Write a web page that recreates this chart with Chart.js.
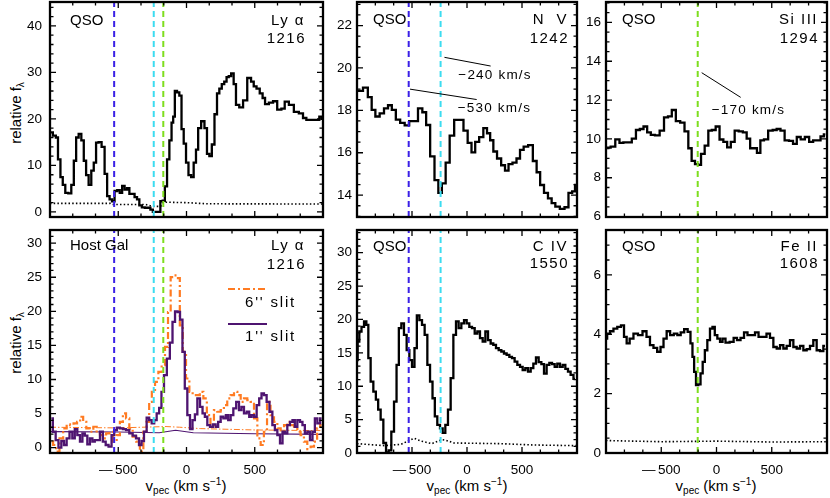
<!DOCTYPE html>
<html>
<head>
<meta charset="utf-8">
<title>QSO and host galaxy line profiles</title>
<script src="https://cdn.jsdelivr.net/npm/chart.js@4.4.1/dist/chart.umd.min.js"></script>
<style>
  html, body { margin: 0; padding: 0; background: #fff; }
  body { position: relative; width: 830px; height: 498px; overflow: hidden;
         font-family: "Liberation Sans", Arial, sans-serif; color: #000; }
  canvas { position: absolute; }
  .yt { position: absolute; font-size: 15px; line-height: 1; white-space: nowrap;
        transform: translate(-50%, -50%) rotate(-90deg); }
  .xt { position: absolute; top: 478px; font-size: 15px; line-height: 1; white-space: nowrap;
        transform: translateX(-50%); }
  .yt sub, .xt sub { font-size: 10px; position: relative; top: 3px; vertical-align: baseline; }
  .xt sup { font-size: 10px; position: relative; top: -6px; vertical-align: baseline; }
</style>
</head>
<body>
<div class="yt" style="left:15px;top:113px">relative f<sub>λ</sub></div>
<div class="yt" style="left:15px;top:343px">relative f<sub>λ</sub></div>
<div class="xt" style="left:186px">v<sub>pec</sub> (km s<sup>−1</sup>)</div>
<div class="xt" style="left:467px">v<sub>pec</sub> (km s<sup>−1</sup>)</div>
<div class="xt" style="left:716px">v<sub>pec</sub> (km s<sup>−1</sup>)</div>
<script>
const FONT = '"Liberation Sans", Arial, sans-serif';

// ---- data (velocity in km/s, flux in relative f_lambda) ----
const velTicks = [-500, 0, 500];
const vBlue = -530, vCyan = -240, vGreen = -170;

// QSO Ly alpha 1216
const lyaQsoVel = [-995,-963,-951,-932,-915,-898,-878,-854,-834,-817,
  -800,-780,-761,-744,-727,-707,-688,-671,-654,-634,
  -610,-590,-573,-554,-537,-517,-498,-480,-463,-444,
  -427,-410,-390,-371,-354,-337,-317,-293,-273,-256,
  -237,-220,-200,-183,-166,-151,-134,-117,-102,-93,
  -78,-61,-44,-29,-12,5,24,44,61,78,
  93,122,141,159,176,195,215,232,249,268,
  285,302,317,337,354,371,402,427,463,483,
  502,524,549,566,585,622,646,683,707,732,
  768,805,841,866,890,939,963,983,1000];
const lyaQsoFlux = [17.1,16.4,16,11.3,7.5,5.8,4.1,4.0,5.8,11,
  16,16.8,15.4,11,7.9,5.8,8.9,10.6,14.9,15,
  14,8.2,3.4,2.7,2.3,4.5,4.7,4.1,5.6,4.8,
  5.1,3.9,3.9,3.2,2.7,1.4,1.0,0.9,0.9,0.5,
  0,0,0,2.3,2.4,5.5,11.3,15.4,19.2,20.5,
  26,25.7,25,17.8,14.7,10.6,7.9,7.5,10.6,13.4,
  18,19.5,18,12.5,12,14.5,21,25.5,26.5,27.5,
  28,29,29.2,29.8,27.5,23,22.5,24,28.8,28,
  27,26.5,25.5,24.5,23.2,23.5,23.8,22,22.2,23.7,
  23,21.5,21.2,20.2,19.8,19.8,19.8,20.5,20];
const lyaQsoErrVel = [-1000,-560,-545,-300,-250,-190,-170,0,150,1000];
const lyaQsoErr = [1.85,1.85,1.6,1.6,1.2,1.2,2.1,2.0,1.75,1.7];

// QSO N V 1242
const nvVel = [-1000,-970,-921,-882,-851,-815,-773,-736,-700,-667,
  -627,-588,-545,-506,-467,-424,-388,-355,-315,-276,
  -245,-212,-176,-139,-94,-52,-12,24,58,91,
  130,167,197,224,255,291,330,361,394,433,
  467,497,533,579,618,648,682,718,754,785,
  821,867,906,939,973,991];
const nvFlux = [18.92,18.92,19.07,18.62,18.02,17.71,17.86,18.09,18.24,18.02,
  17.56,17.41,17.29,17.49,17.49,18.09,17.91,17.31,15.83,14.71,
  14.11,14.56,15.53,16.81,17.55,17.55,17.04,16.47,16.02,16.51,
  16.74,17.16,16.92,16.59,16.06,15.73,15.41,15.16,15.46,15.53,
  15.73,16.14,16.29,16.36,15.61,15.08,14.48,14.11,13.85,13.62,
  13.46,13.35,13.43,14.11,14.18,14.48];

// QSO Si III 1294
const si3Vel = [-1000,-979,-937,-895,-861,-825,-786,-747,-711,-677,
  -644,-611,-578,-536,-493,-457,-421,-388,-348,-309,
  -270,-240,-210,-179,-155,-125,-89,-59,-26,11,
  44,80,113,146,183,219,258,288,321,351,
  381,413,446,489,528,561,597,636,676,709,
  744,780,819,858,891,925,958,985];
const si3Flux = [9.55,9.55,9.6,9.98,9.8,9.82,9.82,10.02,10.46,10.51,
  10.64,10.34,10.21,10.18,10.43,11.11,11.16,11.49,10.92,10.84,
  10.39,9.52,8.87,8.7,8.66,9.23,9.66,10.43,10.46,10.64,
  9.97,9.85,9.56,9.85,10.43,10.39,10.34,10.02,9.52,9.52,
  9.28,9.93,9.98,10.43,10.46,10.51,10.43,9.93,9.9,9.74,
  10.1,9.98,10.1,9.85,9.93,9.93,10.13,10.23];

// Host galaxy Ly alpha, 1" slit
const gal1Vel = [-990,-968,-949,-927,-907,-888,-868,-846,-827,-810,
  -790,-771,-754,-736,-717,-698,-681,-663,-644,-624,
  -602,-582,-560,-538,-521,-499,-477,-455,-431,-407,
  -382,-358,-338,-321,-302,-282,-265,-245,-228,-209,
  -192,-175,-155,-133,-111,-94,-74,-57,-38,-21,
  -4,16,35,53,70,89,109,126,143,162,
  182,204,223,241,260,280,297,314,333,353,
  375,394,411,431,451,468,485,504,524,541,
  558,577,597,619,639,656,675,695,712,729,
  748,768,785,802,822,841,858,876,895,914,
  932,949,968,990];
const gal1Flux = [4.29,2.34,1.12,0.0,0.98,0.39,1.37,2.34,1.37,2.73,
  1.85,0.88,2.10,1.76,0.49,1.37,0.88,1.12,1.12,2.34,
  0.88,0.39,0.15,1.85,2.59,2.93,2.83,2.73,2.59,2.10,
  1.76,1.37,0.39,0.98,2.34,4.39,4.05,3.56,4.05,5.02,
  5.85,8.20,10.63,13.07,15.41,18.44,20.0,19.9,18.78,14.05,
  8.68,4.78,2.73,4.05,4.88,7.22,6.0,5.02,4.54,3.32,
  3.07,3.41,3.07,3.80,4.54,4.29,4.78,4.05,4.78,5.76,
  6.73,5.51,6.0,5.02,5.27,4.54,4.78,4.54,6.24,7.22,
  7.95,7.71,6.73,5.27,3.32,2.59,1.85,0.63,2.34,2.10,
  3.32,3.80,4.05,3.07,4.05,3.80,3.32,2.10,2.34,1.12,
  2.34,4.29,3.56,4.29];
const gal1ErrVel = [-1000,-500,-200,-80,50,500,1000];
const gal1Err = [2.35,2.3,2.2,2.55,2.2,2.05,1.95];

// Host galaxy Ly alpha, 6" slit
const gal6Vel = [-988,-966,-944,-917,-890,-866,-841,-814,-790,-768,
  -746,-722,-695,-670,-646,-621,-600,-578,-551,-524,
  -499,-477,-455,-431,-407,-382,-355,-328,-304,-282,
  -265,-243,-218,-194,-170,-145,-126,-106,-84,-60,
  -38,-16,9,33,57,84,111,136,162,189,
  213,238,262,286,311,336,360,385,409,433,
  458,482,507,531,556,578,602,629,653,678,
  702,727,751,775,800,824,848,873,897,922,
  946,968,990];
const gal6Flux = [0.88,0.39,-0.59,1.37,2.83,3.41,3.32,3.56,3.80,4.54,
  3.80,2.83,2.34,3.07,2.10,1.85,1.37,2.10,2.34,0.88,
  1.85,3.80,5.02,4.29,2.83,1.61,0.88,-0.59,2.34,3.80,
  6.73,8.20,9.66,11.12,12.10,14.78,19.90,25.02,25.27,24.88,
  17.95,14.05,10.15,8.20,7.71,7.71,8.20,7.22,4.78,3.32,
  5.51,5.27,5.51,6.24,7.22,7.71,8.20,7.71,6.73,7.22,
  6.98,6.73,4.29,1.37,0.39,2.34,6.73,4.78,3.80,2.83,
  2.34,3.32,3.80,3.32,3.07,2.34,1.85,0.88,-0.20,0.15,
  0.88,2.83,3.32];
const gal6ErrVel = [-1000,-500,-150,-50,100,500,1000];
const gal6Err = [3.0,2.9,3.1,3.0,2.8,2.6,2.5];

// QSO C IV 1550
const c4Vel = [-1000,-988,-970,-948,-924,-906,-888,-864,-839,-818,
  -797,-773,-748,-724,-700,-676,-651,-630,-609,-585,
  -561,-536,-512,-488,-467,-445,-421,-397,-373,-348,
  -324,-303,-282,-258,-233,-209,-185,-161,-136,-112,
  -88,-64,-39,-15,9,33,58,82,106,130,
  155,179,203,227,251,276,300,324,348,373,
  397,421,445,470,494,518,542,567,591,615,
  639,664,688,712,736,761,785,809,833,858,
  882,906,930,954,982];
const c4Flux = [13.9,16.7,18.2,18.9,19.7,19.2,14.2,10.7,9.2,8.0,
  6.5,5.0,1.5,0.1,0.4,3.2,7.7,13.2,18.7,19.4,
  17.7,15.4,13.9,12.9,15.7,20.6,19.9,19.2,17.7,13.2,
  10.7,8.2,5.5,4.2,3.7,3.0,4.2,6.5,11.2,17.7,
  19.7,18.7,19.4,19.9,19.4,18.9,18.7,17.9,18.2,17.2,
  16.7,18.2,16.9,16.4,16.2,15.7,15.4,15.2,14.9,14.7,
  14.4,14.2,13.7,13.2,12.9,12.4,12.7,12.2,12.7,13.4,
  14.3,13.6,13.3,11.9,13.2,13.5,13.3,12.9,13.4,12.9,
  13.2,12.6,12.2,11.7,11.1];
const c4ErrVel = [-1000,-750,-600,-510,-480,-420,-320,-230,-190,-120,300,600,1000];
const c4Err = [1.4,1.1,1.3,2.0,2.2,1.8,1.4,2.0,1.9,1.5,1.4,1.2,1.1];

// QSO Fe II 1608
const fe2Vel = [-1000,-979,-949,-916,-880,-849,-825,-801,-771,-732,
  -689,-650,-617,-587,-554,-520,-493,-466,-436,-403,
  -370,-339,-309,-276,-246,-225,-210,-195,-176,-155,
  -134,-116,-95,-71,-47,-26,-5,20,44,65,
  98,140,170,201,234,264,297,333,364,397,
  436,469,499,530,560,590,620,650,680,711,
  741,771,801,831,861,891,922,952,982];
const fe2Flux = [3.85,4.02,4.10,4.19,4.25,4.30,3.91,3.69,3.85,4.02,
  3.97,4.10,3.91,3.63,3.54,3.41,3.57,3.85,4.10,3.97,
  4.02,3.97,4.06,4.17,4.08,3.69,3.24,2.73,2.29,2.31,
  2.68,3.07,3.46,3.80,4.19,4.25,3.97,3.85,3.74,3.85,
  3.72,3.74,3.88,3.80,3.88,4.06,3.97,3.97,4.06,3.91,
  3.91,4.02,3.88,3.57,3.52,3.63,3.52,3.61,3.80,3.57,
  3.52,3.61,3.46,3.50,3.61,3.80,3.46,3.43,3.61];
const fe2ErrVel = [-1000,-500,0,500,1000];
const fe2Err = [0.42,0.38,0.40,0.37,0.38];

// ---- styling ----
const BLUE = '#3a20e6', CYAN = '#3cdcf0', GREEN = '#7ede1e';
const ORANGE = '#ff7b22', PURPLE = '#4e1470';

const pts = (xs, ys) => xs.map((x, i) => ({ x, y: ys[i] }));
const curve = (xs, ys, color, width, dash, stepped) => ({
  data: pts(xs, ys), borderColor: color, borderWidth: width, borderDash: dash || [],
  stepped: stepped ? 'middle' : false, pointRadius: 0, fill: false, tension: 0
});
const spec = (xs, ys) => curve(xs, ys, '#000', 2.3, [], true);
const dotted = (xs, ys) => curve(xs, ys, '#000', 1.6, [1.5, 2.2], false);
const vline = (v, color, r) => curve([v, v], r, color, 2, [6, 4], false);

// inward ticks, box, in-panel text
const frame = {
  id: 'frame',
  afterDraw(chart, args, o) {
    const { ctx, chartArea: a, scales: { x, y } } = chart;
    ctx.save();
    ctx.strokeStyle = '#000';
    ctx.fillStyle = '#000';
    ctx.lineWidth = 1.3;
    ctx.beginPath();
    for (let k = -6; k <= 6; k++) {
      const px = x.getPixelForValue(k * 500 / 3);
      const len = k % 3 === 0 ? 6 : 3.5;
      ctx.moveTo(px, a.bottom); ctx.lineTo(px, a.bottom - len);
      ctx.moveTo(px, a.top); ctx.lineTo(px, a.top + len);
    }
    for (let i = Math.ceil(y.min / o.yMinor - 1e-9); i * o.yMinor <= y.max; i++) {
      const v = i * o.yMinor;
      const py = y.getPixelForValue(v);
      const r = v / o.yMajor;
      const len = Math.abs(r - Math.round(r)) < 1e-6 ? 6 : 3.5;
      ctx.moveTo(a.left, py); ctx.lineTo(a.left + len, py);
      ctx.moveTo(a.right, py); ctx.lineTo(a.right - len, py);
    }
    ctx.stroke();
    ctx.lineWidth = 2.3;
    ctx.strokeRect(a.left, a.top, a.right - a.left, a.bottom - a.top);

    ctx.font = '15px ' + FONT;
    ctx.textBaseline = 'alphabetic';
    (o.labels || []).forEach(l => {
      ctx.letterSpacing = (l.sp || 0) + 'px';
      ctx.textAlign = l.align;
      ctx.fillText(l.text, l.align === 'left' ? a.left + l.dx : a.right - l.dx, a.top + l.dy);
    });

    ctx.lineWidth = 1;
    ctx.font = '13.5px ' + FONT;
    ctx.letterSpacing = '1.2px';
    ctx.textAlign = 'left';
    ctx.textBaseline = 'middle';
    (o.notes || []).forEach(n => {
      ctx.beginPath();
      ctx.moveTo(x.getPixelForValue(n.x0), y.getPixelForValue(n.y0));
      ctx.lineTo(x.getPixelForValue(n.x1), y.getPixelForValue(n.y1));
      ctx.stroke();
      ctx.fillText(n.text, x.getPixelForValue(n.tx), y.getPixelForValue(n.ty));
    });

    (o.legend || []).forEach(g => {
      ctx.beginPath();
      ctx.setLineDash(g.dash);
      ctx.strokeStyle = g.color;
      ctx.lineWidth = 2.2;
      ctx.moveTo(a.left + g.x0, a.top + g.y);
      ctx.lineTo(a.left + g.x1, a.top + g.y);
      ctx.stroke();
      ctx.setLineDash([]);
      ctx.font = '15px ' + FONT;
      ctx.letterSpacing = '1.8px';
      ctx.textAlign = 'right';
      ctx.textBaseline = 'alphabetic';
      ctx.fillText(g.text, a.right - g.tdx, a.top + g.ty);
    });
    ctx.restore();
  }
};

const fmtVel = v => v < 0 ? '\u2014\u2009' + Math.abs(v) : String(v);

function makePanel(p) {
  const [L, T, W, H] = p.area;
  const xh = p.bottomRow ? 45 : 10;
  const cv = document.createElement('canvas');
  cv.width = p.yw + W + 3;
  cv.height = 3 + H + xh;
  cv.style.left = (L - p.yw) + 'px';
  cv.style.top = (T - 3) + 'px';
  document.body.appendChild(cv);
  const noPad = s => { s.paddingTop = 0; s.paddingBottom = 0; s.paddingLeft = 0; s.paddingRight = 0; };
  new Chart(cv, {
    type: 'line',
    data: { datasets: p.datasets },
    options: {
      responsive: false,
      animation: false,
      events: [],
      layout: { padding: { top: 3, right: 3, left: 0, bottom: p.bottomRow ? 0 : xh } },
      scales: {
        x: {
          type: 'linear', min: -1000, max: 1000, display: p.bottomRow,
          afterBuildTicks: s => { s.ticks = velTicks.map(v => ({ value: v })); },
          afterFit: s => { s.height = xh; noPad(s); },
          grid: { display: false, drawTicks: false }, border: { display: false },
          ticks: { padding: 9, color: '#000', font: { size: 13.5, family: FONT },
                   maxRotation: 0, minRotation: 0, autoSkip: false, callback: fmtVel }
        },
        y: {
          type: 'linear', min: p.yRange[0], max: p.yRange[1],
          afterBuildTicks: s => { s.ticks = p.yTicks.map(v => ({ value: v })); },
          afterFit: s => { s.width = p.yw; noPad(s); },
          grid: { display: false, drawTicks: false }, border: { display: false },
          ticks: { padding: p.ypad, color: '#000', font: { size: 13.5, family: FONT },
                   autoSkip: false, callback: v => String(v) }
        }
      },
      plugins: { legend: { display: false }, tooltip: { enabled: false }, frame: p.frame }
    },
    plugins: [frame]
  });
}

const qsoLabels = (line, wl, dxL, dxR, dy1, dy2) => [
  { text: line[0], align: 'left', dx: dxL, dy: dy1 },
  { text: line[1], align: 'right', dx: dxR, dy: dy1, sp: 1.5 },
  { text: wl, align: 'right', dx: dxR - 1, dy: dy2, sp: 1.5 }
];

// top row
let r = [-1.09, 45.14];
makePanel({
  area: [50, 2, 273, 225], yw: 50, ypad: 8, yRange: r, yTicks: [0, 10, 20, 30, 40],
  datasets: [vline(vBlue, BLUE, r), vline(vCyan, CYAN, r), vline(vGreen, GREEN, r),
             spec(lyaQsoVel, lyaQsoFlux), dotted(lyaQsoErrVel, lyaQsoErr)],
  frame: { yMajor: 10, yMinor: 2, labels: qsoLabels(['QSO', 'Ly α'], '1216', 20, 18, 23, 41) }
});
r = [12.97, 23.11];
makePanel({
  area: [357, 2, 220, 225], yw: 30, ypad: 5, yRange: r, yTicks: [14, 16, 18, 20, 22],
  datasets: [vline(vBlue, BLUE, r), vline(vCyan, CYAN, r), spec(nvVel, nvFlux)],
  frame: {
    yMajor: 2, yMinor: 0.5, labels: qsoLabels(['QSO', 'N  V'], '1242', 16, 9, 22, 41),
    notes: [
      { x0: -205, y0: 20.5, x1: 215, y1: 20.09, tx: -79, ty: 19.64, text: '\u2212240 km/s' },
      { x0: -518, y0: 19.0, x1: 88, y1: 18.51, tx: -85, ty: 18.09, text: '\u2212530 km/s' }
    ]
  }
});
r = [5.98, 17.05];
makePanel({
  area: [606, 2, 221, 225], yw: 30, ypad: 5, yRange: r, yTicks: [6, 8, 10, 12, 14, 16],
  datasets: [vline(vGreen, GREEN, r), spec(si3Vel, si3Flux)],
  frame: {
    yMajor: 2, yMinor: 0.5, labels: qsoLabels(['QSO', 'Si III'], '1294', 16, 9, 22, 41),
    notes: [{ x0: -134, y0: 13.41, x1: 219, y1: 12.14, tx: -43, ty: 11.49, text: '\u2212170 km/s' }]
  }
});

// bottom row
r = [-0.78, 31.93];
makePanel({
  area: [50, 230, 273, 223], yw: 50, ypad: 8, bottomRow: true, yRange: r,
  yTicks: [0, 5, 10, 15, 20, 25, 30],
  datasets: [vline(vBlue, BLUE, r), vline(vCyan, CYAN, r), vline(vGreen, GREEN, r),
             curve(gal1Vel, gal1Flux, PURPLE, 2.3, [], true),
             curve(gal6Vel, gal6Flux, ORANGE, 2.2, [7, 3, 2, 3], true),
             curve(gal1ErrVel, gal1Err, PURPLE, 1.1, [], false),
             curve(gal6ErrVel, gal6Err, ORANGE, 1, [6, 2, 1.5, 2], false)],
  frame: {
    yMajor: 5, yMinor: 1,
    labels: qsoLabels(['Host Gal', 'Ly α'], '1216', 20, 18, 20, 39),
    legend: [
      { color: ORANGE, dash: [7, 3, 2, 3], x0: 178, x1: 217, y: 59, text: "6'' slit", tdx: 27, ty: 77 },
      { color: PURPLE, dash: [], x0: 178, x1: 217, y: 94, text: "1'' slit", tdx: 27, ty: 111 }
    ]
  }
});
r = [0, 33.4];
makePanel({
  area: [357, 230, 220, 223], yw: 30, ypad: 5, bottomRow: true, yRange: r,
  yTicks: [0, 5, 10, 15, 20, 25, 30],
  datasets: [vline(vBlue, BLUE, r), vline(vCyan, CYAN, r), spec(c4Vel, c4Flux), dotted(c4ErrVel, c4Err)],
  frame: { yMajor: 5, yMinor: 1, labels: qsoLabels(['QSO', 'C IV'], '1550', 16, 9, 21, 38) }
});
r = [0, 7.51];
makePanel({
  area: [606, 230, 221, 223], yw: 30, ypad: 5, bottomRow: true, yRange: r,
  yTicks: [0, 2, 4, 6],
  datasets: [vline(vGreen, GREEN, r), spec(fe2Vel, fe2Flux), dotted(fe2ErrVel, fe2Err)],
  frame: { yMajor: 2, yMinor: 0.5, labels: qsoLabels(['QSO', 'Fe II'], '1608', 16, 9, 21, 38) }
});
</script>
</body>
</html>
